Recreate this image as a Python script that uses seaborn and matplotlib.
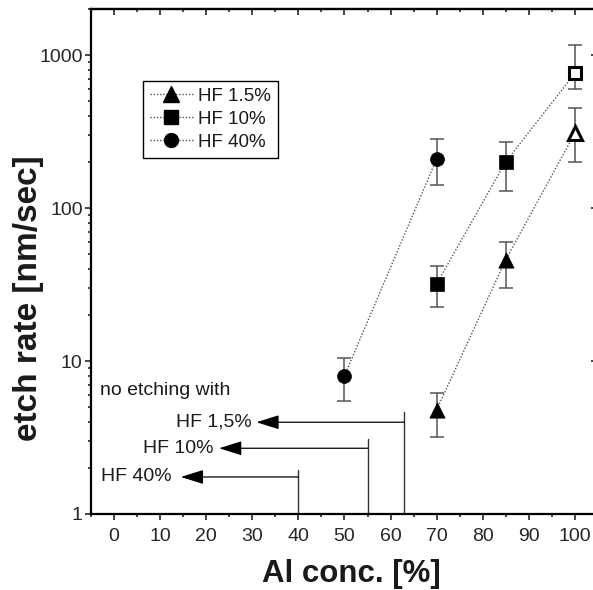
import numpy as np
import pandas as pd
import matplotlib
matplotlib.use("Agg")
import matplotlib.pyplot as plt
from matplotlib.lines import Line2D
from matplotlib.ticker import LogLocator, MultipleLocator, NullFormatter, FixedLocator
import seaborn as sns

# Etch-rate data (Al concentration in %, rate in nm/sec, asymmetric error limits)
al_hf15 = [70, 85, 100]
rate_hf15 = [4.8, 46, 309]
low_hf15 = [3.2, 30, 201]
high_hf15 = [6.2, 60, 453]

al_hf10 = [70, 85, 100]
rate_hf10 = [32, 201, 760]
low_hf10 = [22.5, 130, 604]
high_hf10 = [42, 269, 1162]

al_hf40 = [50, 70]
rate_hf40 = [8, 210]
low_hf40 = [5.5, 141]
high_hf40 = [10.5, 281]

# Lowest Al content without etching, per HF concentration
limit_labels = ["HF 1,5%", "HF 10%", "HF 40%"]
limit_al = [63, 55, 40]
limit_y = [3.98, 2.69, 1.746]
limit_top = [4.66, 3.08, 1.93]
arrow_tip = [30.9, 22.8, 14.5]
label_end = [29.9, 21.5, 12.6]

legend_labels = ["HF 1.5%", "HF 10%", "HF 40%"]
x_ticks = [0, 10, 20, 30, 40, 50, 60, 70, 80, 90, 100]
y_ticks = [1, 10, 100, 1000]

sns.set_style("ticks")
plt.rcParams["font.family"] = ["Liberation Sans", "DejaVu Sans"]

W, H = 593, 590
fig = plt.figure(figsize=(W / 100, H / 100), dpi=100)
ax = fig.add_axes([91 / W, 1 - 514 / H, (598 - 91) / W, (514 - 9) / H])

series = [
    (al_hf15, rate_hf15, low_hf15, high_hf15, "^", 11),
    (al_hf10, rate_hf10, low_hf10, high_hf10, "s", 10),
    (al_hf40, rate_hf40, low_hf40, high_hf40, "o", 10),
]

for i, (xs, ys, lo, hi, mk, ms) in enumerate(series):
    df = pd.DataFrame({"al": xs, "rate": ys})
    sns.lineplot(data=df, x="al", y="rate", ax=ax, color="#555555",
                 linewidth=1.0, linestyle=(0, (1, 1.3)), zorder=2)
    ys_a = np.array(ys)
    yerr = np.vstack([ys_a - np.array(lo), np.array(hi) - ys_a])
    ax.errorbar(xs, ys, yerr=yerr, fmt="none", ecolor="#555555",
                elinewidth=1.1, capsize=5.3, capthick=1.1, zorder=3)
    # filled markers for measured values, open marker at 100 % Al
    filled = [j for j, x in enumerate(xs) if x < 100]
    opened = [j for j, x in enumerate(xs) if x >= 100]
    sns.scatterplot(x=[xs[j] for j in filled], y=[ys[j] for j in filled], ax=ax,
                    marker=mk, s=ms ** 2, color="black", edgecolor="black",
                    linewidth=0.5, zorder=4)
    if opened:
        ax.plot([xs[j] for j in opened], [ys[j] for j in opened], linestyle="none",
                marker=mk, markersize=ms - 1.5, markerfacecolor="white",
                markeredgecolor="black", markeredgewidth=2.2, zorder=4)

# "no etching" limits
for lab, xa, ya, yt, tip, le in zip(limit_labels, limit_al, limit_y, limit_top,
                                    arrow_tip, label_end):
    ax.plot([xa, xa], [1, yt], color="#333333", linewidth=1.0, zorder=2)
    ax.annotate("", xy=(tip, ya), xytext=(xa, ya),
                arrowprops=dict(arrowstyle="-|>,head_length=0.7,head_width=0.22",
                                mutation_scale=20, color="black", lw=0.9,
                                shrinkA=0, shrinkB=0))
    ax.text(le, ya, lab, ha="right", va="center", fontsize=14, color="#1a1a1a")

ax.text(-3, 6.4, "no etching with", ha="left", va="center", fontsize=14,
        color="#1a1a1a")

ax.set_yscale("log")
ax.set_xlim(-5, 105)
ax.set_ylim(1, 2000)

ax.xaxis.set_major_locator(FixedLocator(x_ticks))
ax.xaxis.set_minor_locator(MultipleLocator(5))
ax.yaxis.set_major_locator(FixedLocator(y_ticks))
ax.yaxis.set_minor_locator(LogLocator(base=10, subs=np.arange(2, 10)))
ax.yaxis.set_minor_formatter(NullFormatter())
ax.set_yticklabels([str(v) for v in y_ticks])

for s in ax.spines.values():
    s.set_linewidth(1.6)
    s.set_color("black")

ax.tick_params(axis="x", which="major", direction="out", length=4, width=1.2,
               labelsize=14, pad=6, top=False)
ax.tick_params(axis="x", which="minor", direction="out", length=2.5, width=1.2,
               top=False)
ax.tick_params(axis="y", which="major", direction="out", length=4, width=1.2,
               labelsize=14, pad=2, right=False)
ax.tick_params(axis="y", which="minor", direction="out", length=2.5, width=1.2,
               right=False)

# inward ticks on top and right
top = ax.secondary_xaxis("top")
top.xaxis.set_major_locator(FixedLocator(x_ticks))
top.xaxis.set_minor_locator(MultipleLocator(5))
top.tick_params(which="major", direction="in", length=4.5, width=1.2, labeltop=False)
top.tick_params(which="minor", direction="in", length=2.5, width=1.2)
top.spines["top"].set_linewidth(1.6)
right = ax.secondary_yaxis("right")
right.yaxis.set_major_locator(FixedLocator(y_ticks))
right.yaxis.set_minor_locator(FixedLocator([]))
right.tick_params(which="major", direction="in", length=5, width=1.2, labelright=False)
right.spines["right"].set_linewidth(1.6)

ax.set_xlabel("Al conc. [%]", fontsize=22.5, fontweight="bold", color="#1a1a1a")
ax.set_ylabel("etch rate [nm/sec]", fontsize=24, fontweight="bold", color="#1a1a1a")
ax.xaxis.label.set_verticalalignment("baseline")
ax.xaxis.set_label_coords(0.514, -0.1347)
ax.yaxis.set_label_coords(-0.093, 0.428)

handles = [
    Line2D([], [], color="#555555", linestyle=(0, (1, 1.3)), linewidth=1.0,
           marker="^", markersize=11, markerfacecolor="black", markeredgecolor="black"),
    Line2D([], [], color="#555555", linestyle=(0, (1, 1.3)), linewidth=1.0,
           marker="s", markersize=10, markerfacecolor="black", markeredgecolor="black"),
    Line2D([], [], color="#555555", linestyle=(0, (1, 1.3)), linewidth=1.0,
           marker="o", markersize=10, markerfacecolor="black", markeredgecolor="black"),
]
leg = ax.legend(handles, legend_labels, loc="upper left",
                bbox_to_anchor=((143 - 91) / 507, 1 - (81 - 9) / 505),
                borderaxespad=0, fontsize=13.5, frameon=True, fancybox=False,
                framealpha=1, edgecolor="black", borderpad=0.35,
                labelspacing=0.32, handlelength=2.3, handletextpad=0.3)
leg.get_frame().set_linewidth(1.0)
for t in leg.get_texts():
    t.set_color("#1a1a1a")

fig.savefig("out.png", dpi=100)
